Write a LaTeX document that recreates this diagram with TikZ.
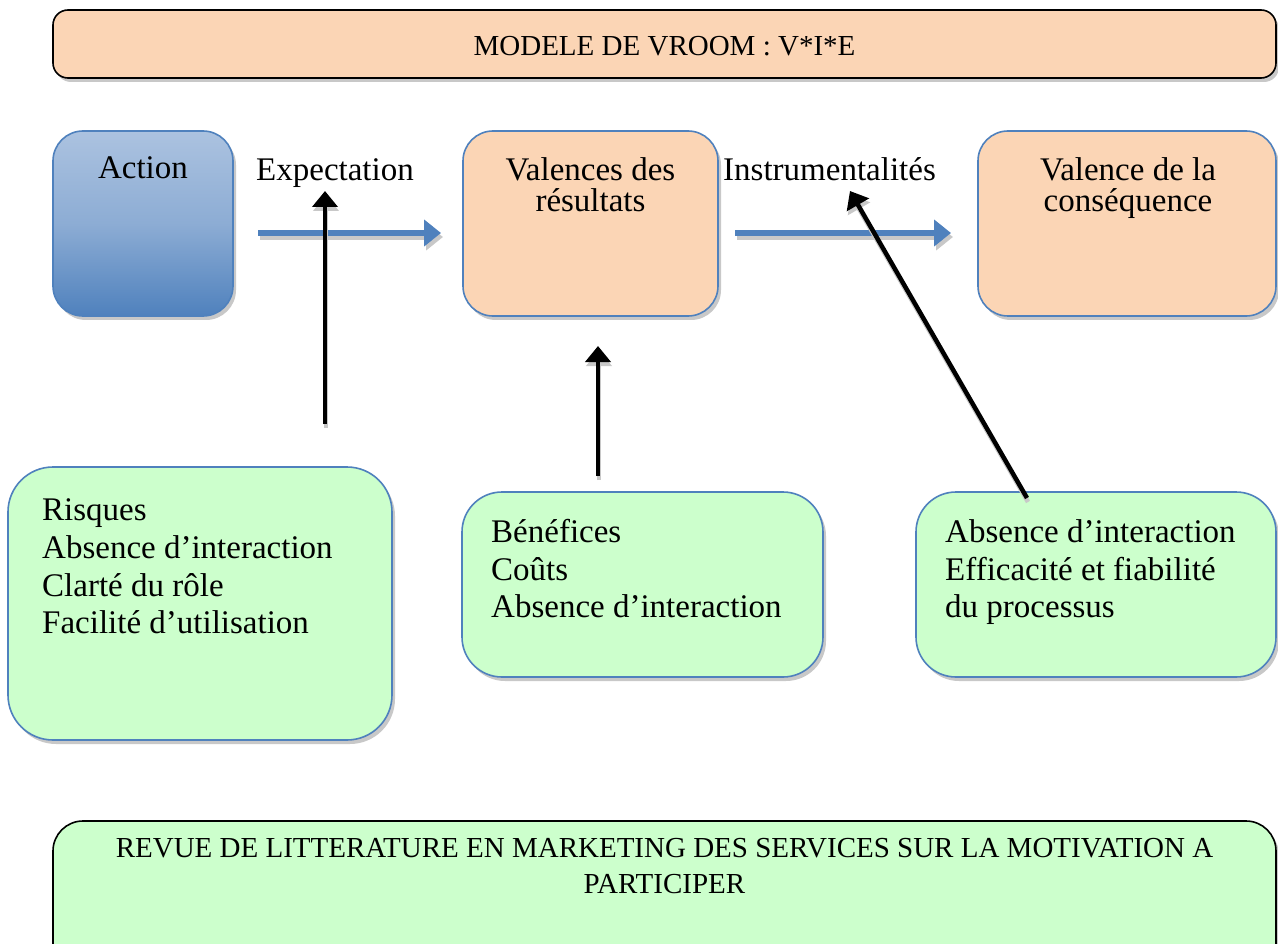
\documentclass[tikz,border=0pt]{standalone}
\usepackage{fontspec}
\setmainfont{Liberation Serif}
\usetikzlibrary{arrows.meta,shadows}
\definecolor{peach}{HTML}{FBD5B5}
\definecolor{mint}{HTML}{CCFFCC}
\definecolor{bblue}{HTML}{4F81BD}
\definecolor{lblue}{HTML}{A7BFDE}
\definecolor{shd}{HTML}{C8C8C8}
\tikzset{
  boxshadow/.style={drop shadow={shadow xshift=3pt,shadow yshift=-4pt,fill=shd,opacity=1}},
  blackbox/.style={draw=black,line width=1.6pt,rounded corners=15pt,boxshadow,inner sep=0pt},
  bluebox/.style={draw=bblue,line width=1.6pt,boxshadow,inner sep=0pt},
  txt/.style={inner sep=0pt,font=\fontsize{33}{38}\selectfont},
  ttl/.style={inner sep=0pt,font=\fontsize{29}{36}\selectfont},
  flowarrow/.style={draw=bblue,line width=6.5pt,-{Triangle[length=17pt,width=26pt]}},
  flowshadow/.style={draw=shd,line width=6.5pt,-{Triangle[length=17pt,width=26pt]}},
  infarrow/.style={draw=black,line width=4.5pt,-{Triangle[length=16pt,width=25pt]}},
  infshadow/.style={draw=shd,line width=4.5pt,-{Triangle[length=16pt,width=25pt]}},
}
\begin{document}
\begin{tikzpicture}[x=1pt,y=-1pt]
\clip (0,0) rectangle (1278,944);
\fill[white] (0,0) rectangle (1278,944);
% boxes
\node[blackbox,fill=peach,minimum width=1223pt,minimum height=68pt] (top) at (664.5,44) {};
\node[bluebox,rounded corners=30pt,top color=lblue!95!white,bottom color=bblue,middle color=lblue!70!bblue,minimum width=180pt,minimum height=185pt] (action) at (143,223.5) {};
\node[bluebox,rounded corners=30pt,fill=peach,minimum width=255pt,minimum height=185pt] (val) at (590.5,223.5) {};
\node[bluebox,rounded corners=30pt,fill=peach,minimum width=298pt,minimum height=185pt] (cons) at (1127,223.5) {};
\node[bluebox,rounded corners=45pt,fill=mint,minimum width=384pt,minimum height=273pt] (g1) at (200,603.5) {};
\node[bluebox,rounded corners=40pt,fill=mint,minimum width=361pt,minimum height=185pt] (g2) at (642.5,584.5) {};
\node[bluebox,rounded corners=40pt,fill=mint,minimum width=360pt,minimum height=185pt] (g3) at (1096,584.5) {};
\node[blackbox,rounded corners=30pt,fill=mint,minimum width=1223pt,minimum height=170pt] (bot) at (664.5,906) {};
% texts
\node[ttl,anchor=base] (ttop) at (664.5,56) {MODELE DE VROOM : V*I*E};
\node[txt,anchor=base] (tact) at (143,179) {Action};
\node[txt,anchor=base west] (texp) at (256,181) {Expectation};
\node[txt,anchor=base] (tval1) at (590.5,181) {Valences des};
\node[txt,anchor=base] (tval2) at (590.5,212) {résultats};
\node[txt,anchor=base west] (tins) at (723,181) {Instrumentalités};
\node[txt,anchor=base] (tcons1) at (1128,181) {Valence de la};
\node[txt,anchor=base] (tcons2) at (1128,212) {conséquence};
\node[txt,anchor=base west] (ta1) at (42,520) {Risques};
\node[txt,anchor=base west] (ta2) at (42,558) {Absence d’interaction};
\node[txt,anchor=base west] (ta3) at (42,596) {Clarté du rôle};
\node[txt,anchor=base west] (ta4) at (42,633) {Facilité d’utilisation};
\node[txt,anchor=base west] (tb1) at (491,542) {Bénéfices};
\node[txt,anchor=base west] (tb2) at (491,580) {Coûts};
\node[txt,anchor=base west] (tb3) at (491,617) {Absence d’interaction};
\node[txt,anchor=base west] (tc1) at (945,542) {Absence d’interaction};
\node[txt,anchor=base west] (tc2) at (945,580) {Efficacité et fiabilité};
\node[txt,anchor=base west] (tc3) at (945,617) {du processus};
\node[ttl,anchor=base] (tbot1) at (664.5,857) {REVUE DE LITTERATURE EN MARKETING DES SERVICES SUR LA MOTIVATION A};
\node[ttl,anchor=base] (tbot2) at (664.5,893) {PARTICIPER};
% connector end points
\coordinate (f1s) at (258,233);
\coordinate (f1e) at (441,233);
\coordinate (f2s) at (735,233);
\coordinate (f2e) at (951,233);
\coordinate (i1s) at (325,424);
\coordinate (i1e) at (325,191);
\coordinate (i2s) at (598,476);
\coordinate (i2e) at (598,346);
\coordinate (i3s) at (1027,498);
\coordinate (i3e) at (850,191);
% shadows of arrows
\draw[flowshadow] ([shift={(2,4)}]f1s) -- ([shift={(2,4)}]f1e);
\draw[flowshadow] ([shift={(2,4)}]f2s) -- ([shift={(2,4)}]f2e);
\draw[flowarrow] (f1s) -- (f1e);
\draw[flowarrow] (f2s) -- (f2e);
\draw[infshadow] ([shift={(1,4)}]i1s) -- ([shift={(1,4)}]i1e);
\draw[infshadow] ([shift={(1,4)}]i2s) -- ([shift={(1,4)}]i2e);
\draw[infshadow] ([shift={(1,4)}]i3s) -- ([shift={(1,4)}]i3e);
\draw[infarrow] (i1s) -- (i1e);
\draw[infarrow] (i2s) -- (i2e);
\draw[infarrow] (i3s) -- (i3e);
\end{tikzpicture}
\end{document}
